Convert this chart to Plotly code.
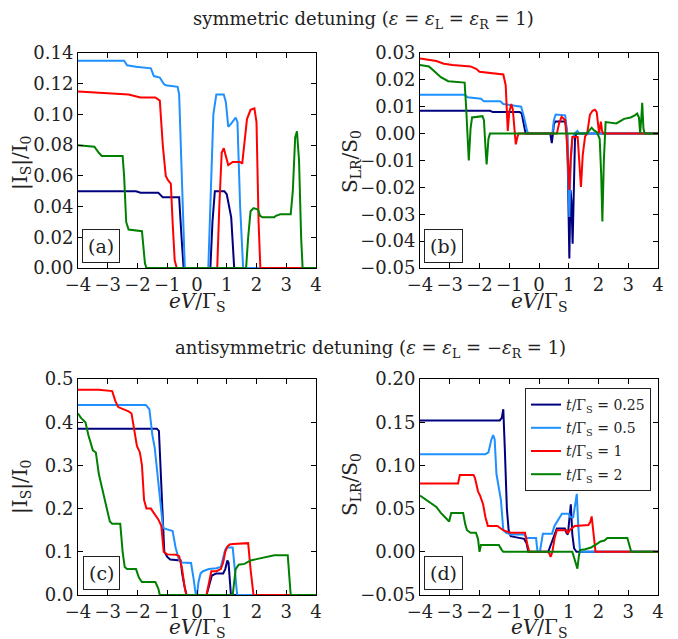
import plotly.graph_objects as go

# ---------------- data ----------------
series_names = ["<i>t</i>/Γ<sub>S</sub> = 0.25", "<i>t</i>/Γ<sub>S</sub> = 0.5",
                "<i>t</i>/Γ<sub>S</sub> = 1", "<i>t</i>/Γ<sub>S</sub> = 2"]
series_colors = ["#00007f", "#1e90ff", "#ff0000", "#008000"]

# Panel (a): |I_S|/I_0, symmetric detuning
a_x_025 = [-4, -2.05, -1.9, -1.3, -1.15, -0.6, -0.52, -0.45, 0.45, 0.52, 0.6, 0.92, 1.0, 1.08, 1.15, 1.25, 4]
a_y_025 = [0.050, 0.050, 0.049, 0.049, 0.046, 0.046, 0.02, 0, 0, 0.03, 0.05, 0.05, 0.048, 0.040, 0.033, 0, 0]
a_x_05 = [-4, -2.45, -2.35, -2.05, -1.55, -1.45, -1.25, -1.12, -1.05, -0.65, -0.6, -0.5, -0.41, 0.38, 0.45, 0.55, 0.65, 0.9, 0.97, 1.05, 1.15, 1.3, 1.36, 1.45, 1.55, 4]
a_y_05 = [0.135, 0.135, 0.132, 0.131, 0.130, 0.125, 0.124, 0.120, 0.119, 0.118, 0.113, 0.05, 0, 0, 0.04, 0.100, 0.113, 0.113, 0.108, 0.092, 0.094, 0.098, 0.095, 0.04, 0, 0]
a_x_1 = [-4, -2.9, -2.3, -2.1, -1.9, -1.4, -1.25, -1.15, -1.05, -0.97, -0.88, -0.82, -0.75, -0.68, 0.68, 0.75, 0.83, 0.9, 0.97, 1.05, 1.2, 1.45, 1.52, 1.6, 1.68, 1.8, 1.93, 2.0, 2.07, 2.13, 4]
a_y_1 = [0.115, 0.114, 0.113, 0.112, 0.111, 0.111, 0.109, 0.08, 0.06, 0.057, 0.055, 0.03, 0.005, 0, 0, 0.04, 0.075, 0.078, 0.072, 0.067, 0.069, 0.069, 0.068, 0.085, 0.097, 0.103, 0.104, 0.095, 0.03, 0, 0]
a_x_2 = [-4, -3.45, -3.3, -3.2, -2.5, -2.45, -2.38, -2.3, -1.85, -1.8, -1.75, -1.7, 1.65, 1.72, 1.8, 1.9, 2.05, 2.12, 2.2, 2.6, 2.65, 2.8, 3.15, 3.22, 3.3, 3.36, 3.43, 3.5, 3.55, 4]
a_y_2 = [0.080, 0.079, 0.075, 0.073, 0.073, 0.06, 0.03, 0.025, 0.024, 0.015, 0.003, 0, 0, 0.02, 0.037, 0.039, 0.038, 0.034, 0.033, 0.033, 0.034, 0.035, 0.035, 0.05, 0.085, 0.089, 0.07, 0.02, 0, 0]

# Panel (b): S_LR/S_0, symmetric detuning
b_x_025 = [-4, -1.65, -1.55, -0.65, -0.58, -0.52, -0.45, 0.38, 0.43, 0.47, 0.5, 0.55, 0.88, 0.95, 0.99, 1.02, 1.06, 1.09, 1.13, 1.17, 1.21, 1.25, 4]
b_y_025 = [0.0085, 0.0085, 0.008, 0.008, 0.0075, 0.004, 0, 0, -0.0035, 0.0, 0.0035, 0.0045, 0.0045, 0.0, -0.03, -0.0465, -0.021, -0.025, -0.041, -0.02, -0.002, 0, 0]
b_x_05 = [-4, -2.5, -2.4, -1.95, -1.85, -1.3, -1.2, -0.8, -0.6, -0.5, -0.4, -0.35, 0.45, 0.5, 0.56, 0.88, 0.95, 0.99, 1.02, 1.07, 1.12, 1.2, 1.29, 1.36, 1.45, 4]
b_y_05 = [0.0145, 0.0145, 0.0135, 0.013, 0.012, 0.012, 0.011, 0.0105, 0.01, 0.006, 0.001, 0, 0, 0.005, 0.0071, 0.0068, 0.0, -0.02, -0.031, -0.01, -0.002, 0, 0.001, 0, 0, 0]
b_x_1 = [-4, -3.45, -3.2, -2.9, -2.3, -2.1, -2.0, -1.2, -1.12, -1.08, -1.05, -1.0, -0.93, -0.88, -0.82, -0.78, -0.72, -0.68, 0.6, 0.68, 0.76, 0.88, 0.95, 0.99, 1.02, 1.06, 1.12, 1.3, 1.36, 1.41, 1.47, 1.55, 1.62, 1.71, 1.8, 1.88, 1.94, 1.99, 2.02, 2.08, 2.12, 2.16, 4]
b_y_1 = [0.028, 0.027, 0.026, 0.0255, 0.025, 0.024, 0.023, 0.022, 0.018, 0.005, 0.001, 0.008, 0.011, 0.009, 0.0, -0.004, -0.001, 0, 0, 0.004, 0.0063, 0.005, -0.005, -0.018, -0.021, -0.01, -0.0013, -0.0013, -0.01, -0.0198, -0.008, -0.001, 0.0, 0.007, 0.0085, 0.0089, 0.008, 0.002, 0.0002, 0.0045, 0.001, 0, 0]
b_x_2 = [-4, -3.7, -3.5, -3.3, -3.05, -2.5, -2.45, -2.4, -2.36, -2.3, -2.25, -1.9, -1.85, -1.8, -1.76, -1.7, -1.65, 1.6, 1.68, 1.77, 1.85, 1.95, 2.04, 2.09, 2.13, 2.18, 2.24, 2.52, 2.6, 2.86, 3.08, 3.22, 3.3, 3.36, 3.4, 3.44, 3.47, 3.51, 3.55, 4]
b_y_2 = [0.0255, 0.025, 0.023, 0.021, 0.0195, 0.019, 0.01, -0.005, -0.010, 0.002, 0.006, 0.0065, 0.005, -0.005, -0.0115, -0.002, 0, 0, 0.001, 0.0022, 0.0012, 0.0005, -0.002, -0.015, -0.0327, -0.01, 0.0043, 0.004, 0.0038, 0.0055, 0.006, 0.0068, 0.0075, 0.006, 0.0, 0.006, 0.0115, 0.002, 0, 0]

# Panel (c): |I_S|/I_0, antisymmetric detuning
c_x_025 = [-4, -1.35, -1.28, -1.2, -1.1, -1.0, -0.9, -0.55, -0.5, -0.42, -0.35, 0.32, 0.4, 0.5, 0.65, 0.88, 0.95, 1.02, 1.06, 1.1, 1.14, 4]
c_y_025 = [0.385, 0.385, 0.38, 0.25, 0.10, 0.088, 0.082, 0.08, 0.05, 0.02, 0, 0, 0.02, 0.045, 0.05, 0.05, 0.06, 0.08, 0.075, 0.03, 0, 0]
c_x_05 = [-4, -1.72, -1.6, -1.5, -1.42, -1.36, -1.3, -1.22, -1.14, -1.0, -0.82, -0.72, -0.6, -0.5, -0.2, -0.12, -0.05, 0.0, 0.05, 0.12, 0.2, 0.4, 0.65, 0.8, 0.88, 0.95, 1.0, 1.2, 1.27, 1.35, 4]
c_y_05 = [0.44, 0.44, 0.43, 0.37, 0.34, 0.30, 0.27, 0.2, 0.155, 0.152, 0.148, 0.11, 0.08, 0.075, 0.074, 0.04, 0.005, 0, 0.03, 0.05, 0.055, 0.06, 0.062, 0.065, 0.09, 0.105, 0.11, 0.11, 0.06, 0, 0]
c_x_1 = [-4, -3.3, -2.85, -2.75, -2.65, -2.45, -2.3, -2.2, -2.1, -2.02, -1.92, -1.85, -1.78, -1.7, -1.55, -1.4, -1.3, -1.2, -1.12, -1.0, -0.7, -0.6, -0.5, -0.42, -0.36, 0.32, 0.4, 0.48, 0.65, 0.8, 0.88, 0.95, 1.02, 1.1, 1.2, 1.6, 1.72, 1.8, 1.9, 4]
c_y_1 = [0.475, 0.475, 0.472, 0.45, 0.435, 0.43, 0.425, 0.42, 0.38, 0.345, 0.33, 0.30, 0.22, 0.20, 0.20, 0.185, 0.175, 0.16, 0.10, 0.094, 0.093, 0.09, 0.06, 0.02, 0, 0, 0.03, 0.055, 0.055, 0.06, 0.075, 0.10, 0.112, 0.117, 0.118, 0.12, 0.12, 0.06, 0, 0]
c_x_2 = [-4, -3.9, -3.75, -3.65, -3.5, -3.4, -3.3, -3.1, -3.02, -2.93, -2.85, -2.58, -2.5, -2.43, -2.35, -2.05, -1.95, -1.85, -1.4, -1.3, -1.25, 1.2, 1.3, 1.4, 1.6, 1.8, 2.0, 2.3, 2.6, 3.05, 3.1, 3.15, 4]
c_y_2 = [0.42, 0.41, 0.40, 0.37, 0.335, 0.33, 0.28, 0.22, 0.20, 0.17, 0.165, 0.165, 0.10, 0.065, 0.06, 0.06, 0.04, 0.03, 0.03, 0.015, 0, 0, 0.06, 0.07, 0.072, 0.08, 0.083, 0.088, 0.092, 0.092, 0.05, 0, 0]

# Panel (d): S_LR/S_0, antisymmetric detuning
d_x_025 = [-4, -1.32, -1.25, -1.2, -1.15, -1.08, -1.02, -0.95, -0.8, -0.5, -0.42, -0.36, 0.31, 0.4, 0.5, 0.6, 0.87, 0.92, 0.97, 1.07, 1.12, 1.18, 1.26, 4]
d_y_025 = [0.152, 0.152, 0.155, 0.165, 0.12, 0.05, 0.025, 0.018, 0.017, 0.015, 0.01, 0, 0, 0.008, 0.018, 0.027, 0.027, 0.022, 0.02, 0.055, 0.02, 0.004, 0, 0]
d_x_05 = [-4, -1.8, -1.7, -1.6, -1.54, -1.49, -1.43, -1.35, -1.28, -1.2, -1.1, -0.95, -0.5, -0.41, -0.1, -0.05, 0.03, 0.13, 0.44, 0.52, 0.6, 0.77, 1.0, 1.05, 1.15, 1.22, 1.27, 1.32, 1.38, 4]
d_y_05 = [0.113, 0.113, 0.115, 0.13, 0.135, 0.13, 0.09, 0.075, 0.06, 0.025, 0.022, 0.02, 0.02, 0.016, 0.016, 0.0, 0.0, 0.021, 0.021, 0.03, 0.035, 0.044, 0.044, 0.04, 0.04, 0.055, 0.067, 0.03, 0, 0]
d_x_1 = [-4, -2.72, -2.66, -2.2, -2.15, -2.05, -1.98, -1.88, -1.8, -1.72, -1.4, -1.3, -1.2, -0.97, -0.47, -0.4, -0.33, 0.3, 0.35, 0.39, 0.45, 0.52, 0.6, 0.92, 0.97, 1.03, 1.14, 1.2, 1.66, 1.72, 1.77, 1.84, 1.9, 4]
d_y_1 = [0.079, 0.079, 0.089, 0.089, 0.085, 0.07, 0.065, 0.055, 0.04, 0.03, 0.03, 0.028, 0.025, 0.022, 0.022, 0.01, 0, 0, -0.002, -0.006, 0.0, 0.015, 0.025, 0.025, 0.021, 0.025, 0.029, 0.03, 0.031, 0.034, 0.041, 0.02, 0, 0]
d_x_2 = [-4, -3.8, -3.6, -3.45, -3.3, -3.15, -3.02, -2.95, -2.88, -2.55, -2.48, -2.42, -2.3, -2.12, -2.05, -2.0, -1.95, -1.9, -1.35, -1.25, -1.2, 1.12, 1.18, 1.24, 1.29, 1.34, 1.38, 1.55, 1.75, 1.9, 2.07, 2.2, 2.3, 2.97, 3.04, 3.1, 4]
d_y_2 = [0.065, 0.06, 0.055, 0.052, 0.045, 0.04, 0.035, 0.045, 0.045, 0.045, 0.032, 0.025, 0.022, 0.022, 0.015, 0.0, 0.008, 0.008, 0.008, 0.002, 0, 0, -0.006, -0.014, -0.0195, -0.005, 0.002, 0.003, 0.005, 0.008, 0.012, 0.013, 0.016, 0.016, 0.006, 0, 0]

x_ticks = [-4, -3, -2, -1, 0, 1, 2, 3, 4]
a_y_ticks = [0.00, 0.02, 0.04, 0.06, 0.08, 0.10, 0.12, 0.14]
b_y_ticks = [-0.05, -0.04, -0.03, -0.02, -0.01, 0.00, 0.01, 0.02, 0.03]
c_y_ticks = [0.0, 0.1, 0.2, 0.3, 0.4, 0.5]
d_y_ticks = [-0.05, 0.00, 0.05, 0.10, 0.15, 0.20]

panels = [
    ("x", "y", [(a_x_025, a_y_025), (a_x_05, a_y_05), (a_x_1, a_y_1), (a_x_2, a_y_2)], False),
    ("x2", "y2", [(b_x_025, b_y_025), (b_x_05, b_y_05), (b_x_1, b_y_1), (b_x_2, b_y_2)], False),
    ("x3", "y3", [(c_x_025, c_y_025), (c_x_05, c_y_05), (c_x_1, c_y_1), (c_x_2, c_y_2)], False),
    ("x4", "y4", [(d_x_025, d_y_025), (d_x_05, d_y_05), (d_x_1, d_y_1), (d_x_2, d_y_2)], True),
]

FONT = "DejaVu Serif"
TXT = "#222"
fig = go.Figure()
for xa, ya, data, show in panels:
    for i, (xs, ys) in enumerate(data):
        fig.add_trace(go.Scatter(x=xs, y=ys, mode="lines", xaxis=xa, yaxis=ya,
                                 line=dict(color=series_colors[i], width=2),
                                 name=series_names[i], showlegend=show,
                                 legendgroup="g%d" % i))

W, H = 678, 639
OFF = 8  # the page's default body margin shifts the figure by 8 px in the viewer
def px(x):
    return (x - OFF) / W
def py(y):
    return 1 - (y - OFF) / H
def dx(a, b):
    return [px(a), px(b)]
def dy(top, bottom):
    return [py(bottom), py(top)]

axis_common = dict(showline=True, linecolor="black", linewidth=1, mirror="ticks",
                   ticks="inside", ticklen=5, tickwidth=1, tickcolor="black",
                   showgrid=False, zeroline=False, automargin=False,
                   tickfont=dict(family=FONT, size=18, color=TXT))

xcol_left = dx(78, 316)
xcol_right = dx(420, 658)
yrow_top = dy(53, 268)
yrow_bot = dy(379, 595)

fig.update_layout(
    template="none",
    width=W, height=H, margin=dict(l=0, r=0, t=0, b=0, pad=0, autoexpand=False),
    paper_bgcolor="white", plot_bgcolor="white",
    xaxis=dict(domain=xcol_left, anchor="y", range=[-4, 4], tickvals=x_ticks, **axis_common),
    yaxis=dict(domain=yrow_top, anchor="x", range=[0, 0.14], tickvals=a_y_ticks, tickformat=".2f", **axis_common),
    xaxis2=dict(domain=xcol_right, anchor="y2", range=[-4, 4], tickvals=x_ticks, **axis_common),
    yaxis2=dict(domain=yrow_top, anchor="x2", range=[-0.05, 0.03], tickvals=b_y_ticks, tickformat=".2f", **axis_common),
    xaxis3=dict(domain=xcol_left, anchor="y3", range=[-4, 4], tickvals=x_ticks, **axis_common),
    yaxis3=dict(domain=yrow_bot, anchor="x3", range=[0, 0.5], tickvals=c_y_ticks, tickformat=".1f", **axis_common),
    xaxis4=dict(domain=xcol_right, anchor="y4", range=[-4, 4], tickvals=x_ticks, **axis_common),
    yaxis4=dict(domain=yrow_bot, anchor="x4", range=[-0.05, 0.20], tickvals=d_y_ticks, tickformat=".2f", **axis_common),
    legend=dict(x=px(651), y=py(388), xanchor="right", yanchor="top",
                bordercolor=TXT, borderwidth=1, bgcolor="white",
                font=dict(family=FONT, size=14, color=TXT),
                tracegroupgap=2, itemwidth=30),
    showlegend=True,
)

ann = []
def text(x, y, s, size=18, angle=0, **kw):
    ann.append(dict(x=px(x), y=py(y), xref="paper", yref="paper", text=s, showarrow=False,
                    xanchor="center", yanchor="middle",
                    textangle=angle, font=dict(family=FONT, size=size, color=TXT), **kw))

# Titles
text(363, 20, "symmetric detuning (<i>ε</i> = <i>ε</i><sub>L</sub> = <i>ε</i><sub>R</sub> = 1)", size=18)
text(370, 349, "antisymmetric detuning (<i>ε</i> = <i>ε</i><sub>L</sub> = −<i>ε</i><sub>R</sub> = 1)", size=18)
# x titles
for cx, cy in [(197, 302), (539, 302), (197, 628), (539, 628)]:
    text(cx, cy, "<i>eV</i>/Γ<sub>S</sub>", size=20)
# y titles
text(21, 163, "|I<sub>S</sub>|/I<sub>0</sub>", size=20, angle=-90)
text(351, 162, "S<sub>LR</sub>/S<sub>0</sub>", size=20, angle=-90)
text(21, 487, "|I<sub>S</sub>|/I<sub>0</sub>", size=20, angle=-90)
text(351, 485, "S<sub>LR</sub>/S<sub>0</sub>", size=20, angle=-90)
# panel labels
for lx, ly, lab in [(101, 246, "(a)"), (443, 246, "(b)"), (101, 573, "(c)"), (443, 573, "(d)")]:
    text(lx, ly, lab, size=19, bordercolor=TXT, borderwidth=1, borderpad=5, bgcolor="white")

fig.update_layout(annotations=ann)
fig.write_html("out.html")
